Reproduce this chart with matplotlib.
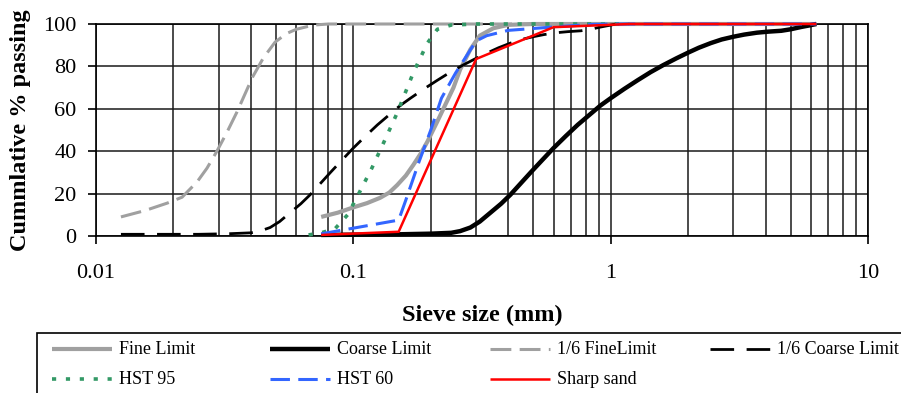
import matplotlib
matplotlib.use('Agg')
import matplotlib.pyplot as plt
from matplotlib.lines import Line2D
from matplotlib.patches import Rectangle
from matplotlib.transforms import IdentityTransform
from matplotlib.ticker import FixedLocator, NullFormatter

plt.rcParams['font.family'] = ['Liberation Serif', 'DejaVu Serif']
plt.rcParams['lines.scale_dashes'] = False

# sieve sizes (mm) and cumulative % passing
fine_size = [0.075, 0.087, 0.1, 0.113, 0.127, 0.138, 0.148, 0.16, 0.171, 0.183, 0.194, 0.212, 0.245,
             0.26, 0.285, 0.31, 0.35, 0.4, 0.5, 0.6, 1.18, 2.36, 4.75, 6.3]
fine_pass = [9, 11, 13.5, 15.5, 18, 20.5, 24, 28.5, 33.5, 39, 44.5, 54, 70,
             78.5, 88, 94.5, 98, 99.6, 100, 100, 100, 100, 100, 100]

coarse_size = [0.075, 0.15, 0.2, 0.24, 0.26, 0.285, 0.31, 0.341, 0.375, 0.408, 0.447, 0.489, 0.54,
               0.6, 0.67, 0.744, 0.83, 0.914, 1.0, 1.13, 1.27, 1.43, 1.6, 1.8, 2.0, 2.2, 2.45,
               2.7, 3.0, 3.3, 3.7, 4.1, 4.6, 5.0, 5.5, 5.9, 6.3]
coarse_pass = [0.5, 0.8, 1.1, 1.5, 2.3, 4, 6.8, 11, 15.2, 19.5, 24.8, 30, 35.6,
               41.5, 47.2, 52.4, 57.3, 61.6, 65, 69.4, 73.4, 77.3, 80.6, 83.8, 86.5, 88.8, 91,
               92.7, 94, 95, 95.9, 96.4, 96.8, 97.5, 98.6, 99.3, 100]

fine6_size = [0.0125, 0.0155, 0.0189, 0.0216, 0.0247, 0.027, 0.0295, 0.0323, 0.0353, 0.0406,
              0.0447, 0.0497, 0.055, 0.06, 0.07, 0.08, 0.1, 0.197, 0.393, 0.79, 1.05]
fine6_pass = [9, 12, 15.5, 18.3, 25.5, 32, 40, 49, 58.5, 75,
              84, 91.5, 95.5, 97.5, 99.5, 100, 100, 100, 100, 100, 100]

coarse6_size = [0.0125, 0.025, 0.0333, 0.04, 0.0433, 0.0475, 0.0517, 0.0568, 0.0625, 0.068,
                0.0745, 0.0815, 0.09, 0.1, 0.1117, 0.124, 0.1383, 0.1523, 0.1667, 0.1883,
                0.2117, 0.2383, 0.2667, 0.3, 0.3333, 0.3667, 0.4083, 0.45, 0.5, 0.55,
                0.6167, 0.6833, 0.7667, 0.8333, 0.9167, 0.9833, 1.05]
coarse6_pass = [0.8, 0.8, 1.1, 1.5, 2.3, 4, 6.8, 11, 15.2, 19.5,
                24.8, 30, 35.6, 41.5, 47.2, 52.4, 57.3, 61.6, 65, 69.4,
                73.4, 77.3, 80.6, 83.8, 86.5, 88.8, 91, 92.7, 94, 95,
                95.9, 96.4, 96.8, 97.5, 98.6, 99.3, 100]

hst95_size = [0.067, 0.075, 0.085, 0.095, 0.105, 0.118, 0.13, 0.148, 0.171, 0.194, 0.212, 0.24, 0.3, 0.6, 1.18]
hst95_pass = [0.5, 1.5, 3.5, 10, 20, 32, 43, 58, 77, 91, 97.5, 99.5, 100, 100, 100]

hst60_size = [0.075, 0.15, 0.16, 0.18, 0.2, 0.22, 0.25, 0.3, 0.33, 0.4, 0.6, 0.85, 1.18, 2.36, 4.75, 6.3]
hst60_pass = [1, 7.5, 17, 35, 50, 65, 77, 92, 94.5, 97, 98.6, 99.8, 100, 100, 100, 100]

sand_size = [0.075, 0.15, 0.3, 0.6, 1.18, 2.36, 4.75, 6.3]
sand_pass = [0.5, 2, 83.5, 98.5, 100, 100, 100, 100]

x_ticks = [0.01, 0.1, 1, 10]
x_ticklabels = ['0.01', '0.1', '1', '10']
y_ticks = [0, 20, 40, 60, 80, 100]

GRAY = '#a0a0a0'
GREEN = '#339966'
BLUE = '#3366ff'

series = [
    ('Fine Limit', fine_size, fine_pass, dict(color=GRAY, lw=3.0)),
    ('Coarse Limit', coarse_size, coarse_pass, dict(color='black', lw=3.2)),
    ('1/6 FineLimit', fine6_size, fine6_pass, dict(color=GRAY, lw=2.2, dashes=(15, 6))),
    ('1/6 Coarse Limit', coarse6_size, coarse6_pass, dict(color='black', lw=2.0, dashes=(17, 9))),
    ('HST 95', hst95_size, hst95_pass, dict(color=GREEN, lw=2.6, dashes=(3, 7))),
    ('HST 60', hst60_size, hst60_pass, dict(color=BLUE, lw=2.2, dashes=(14, 6))),
    ('Sharp sand', sand_size, sand_pass, dict(color='red', lw=1.8)),
]

W, H = 901, 393
fig = plt.figure(figsize=(W / 100, H / 100), dpi=100)
ax = fig.add_axes([96 / W, 1 - 236 / H, (868 - 96) / W, (236 - 24) / H])

ax.set_xscale('log')
ax.set_xlim(0.01, 10)
ax.set_ylim(0, 100)

for label, xs, ys, style in series:
    ax.plot(xs, ys, solid_capstyle='butt', dash_capstyle='butt',
            solid_joinstyle='round', clip_on=False, zorder=3, **style)

# grid: every log minor sieve line plus 20% steps
minor = [m * d for d in (0.01, 0.1, 1) for m in range(2, 10)]
ax.xaxis.set_minor_locator(FixedLocator(minor))
ax.xaxis.set_minor_formatter(NullFormatter())
ax.set_xticks(x_ticks)
ax.set_xticklabels(x_ticklabels)
ax.set_yticks(y_ticks)
ax.grid(True, which='both', axis='x', color='#1a1a1a', lw=1.1)
ax.grid(True, which='major', axis='y', color='#1a1a1a', lw=1.1)
ax.tick_params(axis='x', which='major', direction='out', length=6, width=1.2,
               labelsize=16, pad=14)
ax.tick_params(axis='x', which='minor', length=0)
ax.tick_params(axis='y', direction='out', length=6, width=1.2, labelsize=16, pad=8)
for s in ax.spines.values():
    s.set_color('black')
    s.set_linewidth(1.2)

ax.set_ylabel('Cummlative % passing', fontsize=17.5, fontweight='bold', labelpad=9)
ax.set_xlabel('Sieve size (mm)', fontsize=17.5, fontweight='bold', labelpad=16)

# legend box (runs off the right and bottom edge as in the original)
tr = IdentityTransform()
fig.add_artist(Rectangle((37, -20), W + 20 - 37, (H - 333) + 20, transform=tr,
                         fill=False, edgecolor='black', lw=1.2, clip_on=False))
col_x = [52, 270, 490, 710]
row_y = [349, 379]
handle_len = 60
for i, (label, xs, ys, style) in enumerate(series):
    cx = col_x[i % 4]
    cy = H - row_y[i // 4]
    fig.add_artist(Line2D([cx, cx + handle_len], [cy, cy], transform=tr,
                          solid_capstyle='butt', dash_capstyle='butt', **style))
    fig.text(cx + handle_len + 7, cy, label, transform=tr, fontsize=13,
             va='center', ha='left')

fig.savefig('out.png', dpi=100)
